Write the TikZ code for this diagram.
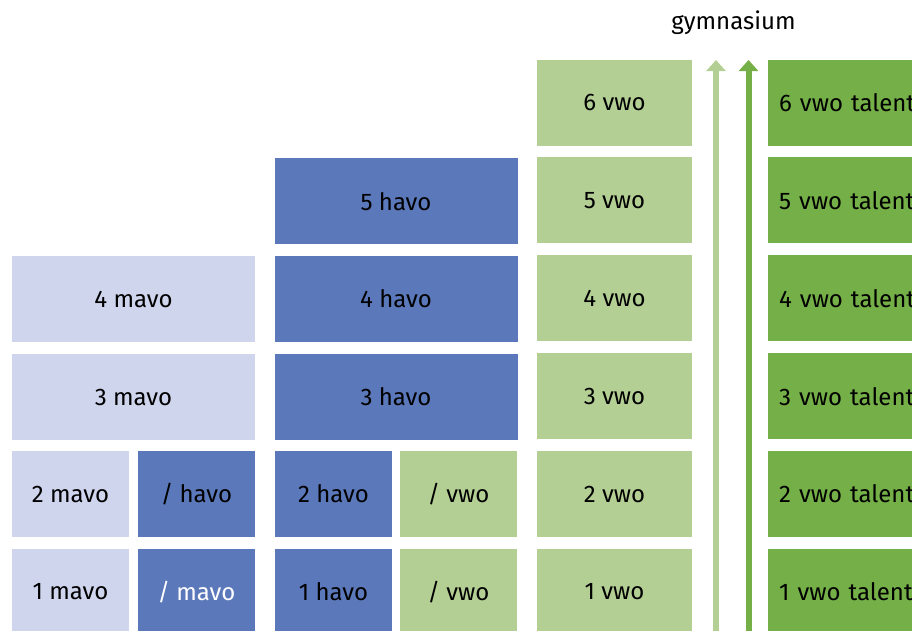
\documentclass[tikz,border=0pt]{standalone}
\usepackage{fontspec}
\setmainfont{Fira Sans}
\usepackage{xcolor}
\usetikzlibrary{positioning,arrows.meta}

\definecolor{mavoC}{RGB}{208,213,238}
\definecolor{havoC}{RGB}{91,120,186}
\definecolor{vwoC}{RGB}{179,207,148}
\definecolor{talentC}{RGB}{116,175,71}

\begin{document}
\begin{tikzpicture}[
  x=1pt, y=-1pt,
  font=\fontsize{24}{28}\selectfont,
  box/.style={minimum height=86pt, inner sep=0pt, text=black},
  narrow/.style={box, minimum width=117pt},
  wide/.style={box, minimum width=243pt},
  vwocol/.style={box, minimum width=155pt, fill=vwoC},
  talent/.style={box, fill=talentC, anchor=west, text width=190pt,
    inner xsep=11pt, align=left},
  up/.style={-{Triangle[width=19pt,length=11pt]}, line width=6pt}
]
\useasboundingbox (0,0) rectangle (912,630);
\clip (0,0) rectangle (912,630);

% mavo
\node[narrow, fill=mavoC] (m1) at (70.5,592) {1 mavo};
\node[narrow, fill=havoC, text=white] (m1b) at (196.5,592) {/ mavo};
\node[narrow, fill=mavoC, above=11.5pt of m1] (m2) {2 mavo};
\node[narrow, fill=havoC, above=11.5pt of m1b] (m2b) {/ havo};
\node[wide, fill=mavoC] (m3) at (133.5,397) {3 mavo};
\node[wide, fill=mavoC, above=11.5pt of m3] (m4) {4 mavo};

% havo
\node[narrow, fill=havoC] (h1) at (333.5,592) {1 havo};
\node[narrow, fill=vwoC] (h1b) at (458.5,592) {/ vwo};
\node[narrow, fill=havoC, above=11.5pt of h1] (h2) {2 havo};
\node[narrow, fill=vwoC, above=11.5pt of h1b] (h2b) {/ vwo};
\node[wide, fill=havoC] (h3) at (396,397) {3 havo};
\node[wide, fill=havoC, above=11.5pt of h3] (h4) {4 havo};
\node[wide, fill=havoC, above=11.5pt of h4] (h5) {5 havo};

% vwo
\node[vwocol] (v1) at (614.5,592) {1 vwo};
\node[vwocol, above=11.5pt of v1] (v2) {2 vwo};
\node[vwocol, above=11.5pt of v2] (v3) {3 vwo};
\node[vwocol, above=11.5pt of v3] (v4) {4 vwo};
\node[vwocol, above=11.5pt of v4] (v5) {5 vwo};
\node[vwocol, above=11.5pt of v5] (v6) {6 vwo};

% vwo talent
\node[talent] (t1) at (768,592) {1 vwo talent};
\node[talent, above=11.5pt of t1] (t2) {2 vwo talent};
\node[talent, above=11.5pt of t2] (t3) {3 vwo talent};
\node[talent, above=11.5pt of t3] (t4) {4 vwo talent};
\node[talent, above=11.5pt of t4] (t5) {5 vwo talent};
\node[talent, above=11.5pt of t5] (t6) {6 vwo talent};

% gymnasium
\node (gym) at (733.5,23) {gymnasium};
\coordinate (la0) at (716,640);
\coordinate (la1) at (716,60);
\coordinate (da0) at (748.5,640);
\coordinate (da1) at (748.5,60);
\draw[up, vwoC] (la0) -- (la1);
\draw[up, talentC] (da0) -- (da1);
\end{tikzpicture}
\end{document}
